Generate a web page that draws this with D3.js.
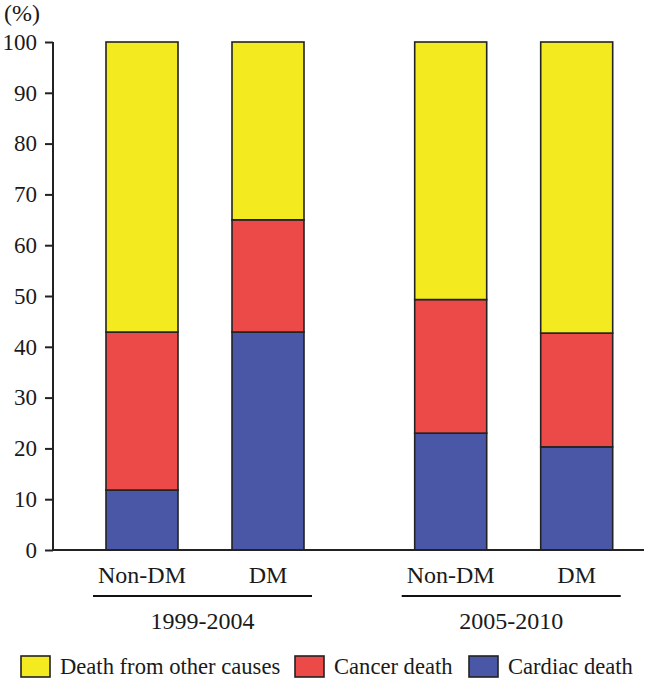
<!DOCTYPE html>
<html><head><meta charset="utf-8">
<script src="https://cdn.jsdelivr.net/npm/d3@7"></script>
<style>body{margin:0;background:#fff}svg text{font-family:"Liberation Serif","Times New Roman",serif;fill:#1a1a1a}</style>
</head><body><svg id="c" width="646" height="679"></svg>
<script>
const groups = ["1999-2004", "2005-2010"];
const categories = ["Non-DM", "DM", "Non-DM", "DM"];
const categoryGroup = [0, 0, 1, 1];
const seriesNames = ["Cardiac death", "Cancer death", "Death from other causes"];
const cardiac = [11.8, 42.9, 23.0, 20.3];
const cancer = [31.1, 22.1, 26.3, 22.4];
const other = [57.1, 35.0, 50.7, 57.3];
const yTicks = [0, 10, 20, 30, 40, 50, 60, 70, 80, 90, 100];
const colors = {"Cardiac death": "#4a56a6", "Cancer death": "#ec4949", "Death from other causes": "#f3eb1f"};

const svg = d3.select("#c");
const y = d3.scaleLinear().domain([0, 100]).range([550, 42]);
// slot position: index within chart plus an extra gap between groups
const slot = (i) => i + 0.45 * categoryGroup[i];
const xc = d3.scaleLinear().domain([0, 1]).range([142, 268]);
const barW = 72;

const data = categories.map((c, i) => ({i, c, vals: [cardiac[i], cancer[i], other[i]]}));
const stack = d3.stack().keys([0,1,2]).value((d, k) => d.vals[k]);
const series = stack(data);

series.forEach((s, k) => {
  svg.append("g").selectAll("rect").data(s).join("rect")
    .attr("x", d => xc(slot(d.data.i)) - barW/2)
    .attr("width", barW)
    .attr("y", d => y(d[1]))
    .attr("height", d => y(d[0]) - y(d[1]))
    .attr("fill", colors[seriesNames[k]])
    .attr("stroke", "#222")
    .attr("stroke-width", 1.6);
});

// y axis
const ax = svg.append("g").attr("transform", "translate(53,0)")
  .call(d3.axisLeft(y).tickValues(yTicks).tickSize(8).tickPadding(8));
ax.select(".domain").attr("stroke", "#222").attr("stroke-width", 2).attr("d", "M0," + y(100) + "V" + y(0));
ax.selectAll(".tick line").attr("stroke", "#222").attr("stroke-width", 2);
ax.selectAll(".tick text").attr("font-size", 23).attr("fill", "#1a1a1a");

// baseline
svg.append("line").attr("x1", 53).attr("x2", 644).attr("y1", y(0)).attr("y2", y(0))
  .attr("stroke", "#222").attr("stroke-width", 2);

svg.append("text").attr("x", 4).attr("y", 21).attr("font-size", 24).text("(%)");

// category labels
svg.append("g").selectAll("text").data(data).join("text")
  .attr("x", d => xc(slot(d.i)))
  .attr("y", 583).attr("text-anchor", "middle").attr("font-size", 24)
  .text(d => d.c);

// group lines & labels
groups.forEach((g, gi) => {
  const idx = categoryGroup.map((v, i) => v === gi ? i : -1).filter(i => i >= 0);
  const x0 = xc(slot(idx[0])) - barW/2 - 13;
  const x1 = xc(slot(idx[idx.length-1])) + barW/2 + 8;
  svg.append("line").attr("x1", x0).attr("x2", x1).attr("y1", 596).attr("y2", 596)
    .attr("stroke", "#111").attr("stroke-width", 2);
  svg.append("text").attr("x", (x0 + x1)/2).attr("y", 629).attr("text-anchor", "middle")
    .attr("font-size", 24).text(g);
});

// legend
const legendItems = ["Death from other causes", "Cancer death", "Cardiac death"];
const legendX = [21, 295, 469];
legendItems.forEach((name, i) => {
  svg.append("rect").attr("x", legendX[i]).attr("y", 656).attr("width", 29).attr("height", 21)
    .attr("fill", colors[name]).attr("stroke", "#222").attr("stroke-width", 1.6);
  svg.append("text").attr("x", legendX[i] + 39).attr("y", 674).attr("font-size", 22.6).text(name);
});
</script></body></html>
